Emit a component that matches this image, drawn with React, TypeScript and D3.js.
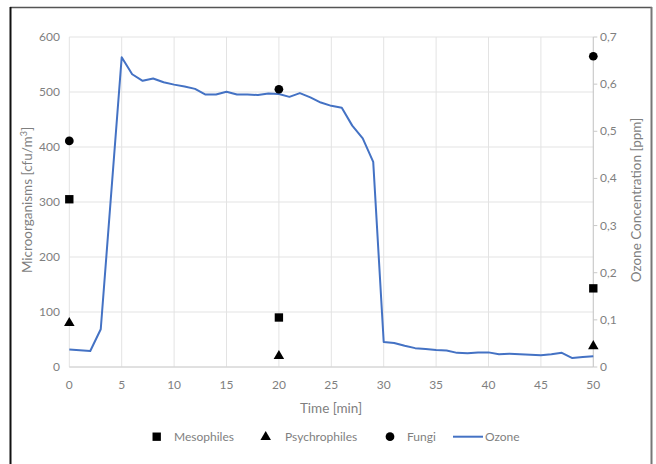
import React from "react";
import * as d3 from "d3";

// time points of the ozone record [min]
const ozoneTime = [0, 2, 3, 5, 6, 7, 8, 9, 10, 11, 12, 13, 14, 15, 16, 17, 18, 19, 20, 21, 22, 23, 24, 25, 26, 27, 28, 29, 30, 31, 32, 33, 34, 35, 36, 37, 38, 39, 40, 41, 42, 43, 44, 45, 46, 47, 48, 49, 50];
const ozoneValue = [0.037, 0.034, 0.08, 0.657, 0.621, 0.607, 0.612, 0.604, 0.599, 0.595, 0.59, 0.578, 0.578, 0.584, 0.578, 0.578, 0.577, 0.58, 0.579, 0.573, 0.581, 0.572, 0.561, 0.554, 0.55, 0.512, 0.485, 0.435, 0.053, 0.051, 0.045, 0.04, 0.038, 0.036, 0.035, 0.03, 0.029, 0.031, 0.031, 0.027, 0.028, 0.027, 0.026, 0.025, 0.027, 0.03, 0.019, 0.021, 0.023];

const sampleTime = [0, 20, 50];
const mesophiles = [305, 90, 143];
const psychrophiles = [80, 20, 38];
const fungi = [411, 505, 565];

const leftTicks = [0, 100, 200, 300, 400, 500, 600];
const rightTicks = [0, 0.1, 0.2, 0.3, 0.4, 0.5, 0.6, 0.7];
const timeTicks = [0, 5, 10, 15, 20, 25, 30, 35, 40, 45, 50];

const W = 656;
const H = 464;
const font = "Lato, 'Open Sans', sans-serif";
const textCol = "#7f7f7f";
const gridCol = "#e3e3e3";
const blue = "#4472c4";

export default function App() {
  const x = d3.scaleLinear().domain([0, 50]).range([69.3, 593.3]);
  const yL = d3.scaleLinear().domain([0, 600]).range([367, 37]);
  const yR = d3.scaleLinear().domain([0, 0.7]).range([367, 37]);

  const line = d3
    .line<number>()
    .x((_, i) => x(ozoneTime[i]))
    .y((d) => yR(d));

  const sq = d3.symbol().type(d3.symbolSquare).size(70)()!;
  const tri = d3.symbol().type(d3.symbolTriangle).size(48)()!;
  const circ = d3.symbol().type(d3.symbolCircle).size(60)()!;

  return (
    <div style={{ position: "absolute", left: 0, top: 0 }}>
      <svg width={W} height={H} style={{ display: "block", background: "#fff" }}>
        {/* frame */}
        <line x1={10} x2={652} y1={7.5} y2={7.5} stroke="#555" strokeWidth={1.5} />
        <line x1={10.5} x2={10.5} y1={7} y2={H} stroke="#111" strokeWidth={2} />
        <line x1={651.5} x2={651.5} y1={7} y2={H} stroke="#777" strokeWidth={2} />

        {/* grid */}
        {leftTicks.map((t) => (
          <line key={"h" + t} x1={x(0)} x2={x(50)} y1={yL(t)} y2={yL(t)} stroke={gridCol} strokeWidth={1} />
        ))}
        {timeTicks.map((t) => (
          <line key={"v" + t} x1={x(t)} x2={x(t)} y1={yL(600)} y2={yL(0)} stroke={gridCol} strokeWidth={1} />
        ))}
        <line x1={x(0)} x2={x(50)} y1={yL(0)} y2={yL(0)} stroke="#d0d0d0" />
        <line x1={x(50)} x2={x(50)} y1={yR(0.7)} y2={yR(0)} stroke="#c8c8c8" />
        {rightTicks.map((t) => (
          <line key={"rt" + t} x1={x(50)} x2={x(50) + 4} y1={yR(t)} y2={yR(t)} stroke="#c8c8c8" />
        ))}

        {/* tick labels */}
        <g fontFamily={font} fontSize={12} fill={textCol}>
          {leftTicks.map((t) => (
            <text key={"lt" + t} x={60} y={yL(t) + 4} textAnchor="end">{t}</text>
          ))}
          {rightTicks.map((t) => (
            <text key={"rl" + t} x={600} y={yR(t) + 4}>{t === 0 ? "0" : t.toFixed(1).replace(".", ",")}</text>
          ))}
          {timeTicks.map((t) => (
            <text key={"xt" + t} x={x(t)} y={389} textAnchor="middle">{t}</text>
          ))}
        </g>

        {/* axis titles */}
        <g fontFamily={font} fontSize={13.5} fill={textCol}>
          <text x={331} y={413} textAnchor="middle">Time [min]</text>
          <text transform="translate(32,200) rotate(-90)" textAnchor="middle">
            Microorganisms [cfu/m<tspan fontSize={9} dy={-5}>3</tspan><tspan dy={5}>]</tspan>
          </text>
          <text transform="translate(641,200) rotate(-90)" textAnchor="middle">Ozone Concentration [ppm]</text>
        </g>

        {/* ozone */}
        <path d={line(ozoneValue) ?? ""} fill="none" stroke={blue} strokeWidth={2} strokeLinejoin="round" />

        {/* samples */}
        {sampleTime.map((t, i) => (
          <g key={"s" + t} fill="#000">
            <path d={sq} transform={`translate(${x(t)},${yL(mesophiles[i])})`} />
            <path d={tri} transform={`translate(${x(t)},${yL(psychrophiles[i])})`} />
            <path d={circ} transform={`translate(${x(t)},${yL(fungi[i])})`} />
          </g>
        ))}

        {/* legend */}
        <g fontFamily={font} fontSize={12} fill={textCol}>
          <path d={sq} transform="translate(156.7,436.7)" fill="#000" />
          <text x={174} y={441}>Mesophiles</text>
          <path d={tri} transform="translate(265.7,437)" fill="#000" />
          <text x={285} y={441}>Psychrophiles</text>
          <path d={circ} transform="translate(390,436.7)" fill="#000" />
          <text x={407} y={441}>Fungi</text>
          <line x1={453} x2={483} y1={436.7} y2={436.7} stroke={blue} strokeWidth={2} />
          <text x={485} y={441}>Ozone</text>
        </g>
      </svg>
    </div>
  );
}
